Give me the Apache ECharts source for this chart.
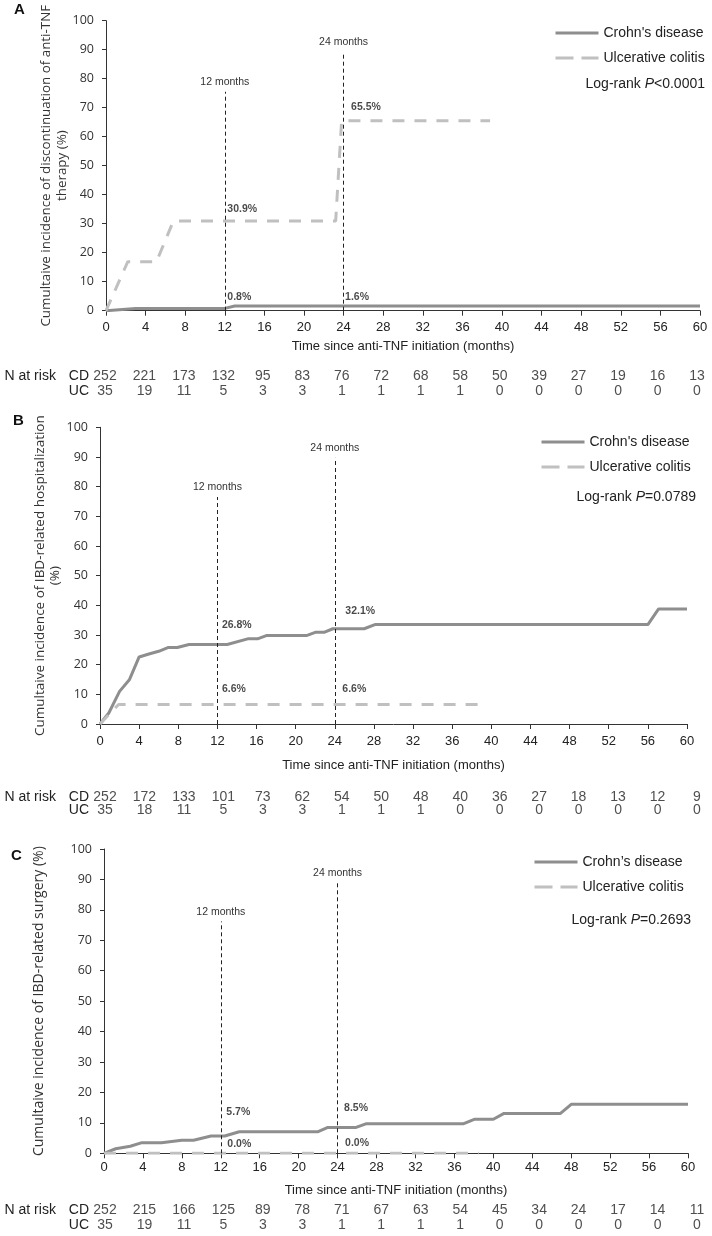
<!DOCTYPE html>
<html><head><meta charset="utf-8">
<script src="https://cdn.jsdelivr.net/npm/echarts@6/dist/echarts.min.js"></script>
<style>html,body{margin:0;padding:0;background:#fff}#c{width:712px;height:1236px}</style>
</head><body><div id="c"></div>
<script>
// ---------- DATA ----------
const months = [0,4,8,12,16,20,24,28,32,36,40,44,48,52,56,60];
const namesAB = ["Crohn's disease", "Ulcerative colitis"];
const namesC = ["Crohn\u2019s disease", "Ulcerative colitis"];
const panelLetters = ['A','B','C'];
const yTitles = [
  'Cumultaive incidence of discontinuation of anti-TNF\ntherapy (%)',
  'Cumultaive incidence of IBD-related hospitalization\n(%)',
  'Cumultaive incidence of IBD-related surgery (%)'
];
const xTitle = 'Time since anti-TNF initiation (months)';
const pValues = ['<0.0001', '=0.0789', '=0.2693'];

// Panel A: discontinuation of anti-TNF therapy
const cdA = [[0,0],[3,0.8],[12,0.8],[13,1.6],[60,1.6]];
const ucA = [[0,0],[2.2,16.9],[5.1,16.9],[6.8,30.9],[23.2,30.9],[23.8,65.5],[38.8,65.5]];
const riskCdA = [252,221,173,132,95,83,76,72,68,58,50,39,27,19,16,13];
const riskUcA = [35,19,11,5,3,3,1,1,1,1,0,0,0,0,0,0];
const annotA = [[12,30.9],[12,0.8],[24,65.5],[24,1.6]];
const refTopsA = [75.5,89.2];

// Panel B: IBD-related hospitalization
const cdB = [[0,0],[0.9,3.7],[2.0,11.0],[3.0,14.9],[4.0,22.6],[5.0,23.6],[6.0,24.5],[7.0,25.8],[7.9,25.8],[9.1,26.8],[13.0,26.8],[15.1,28.7],[16.1,28.7],[17.0,29.8],[21.1,29.8],[22.0,30.9],[22.9,30.9],[23.8,32.1],[27.0,32.1],[28.1,33.5],[56.0,33.5],[57.1,38.8],[60,38.8]];
const ucB = [[0,0],[1.9,6.6],[39.1,6.6]];
const riskCdB = [252,172,133,101,73,62,54,50,48,40,36,27,18,13,12,9];
const riskUcB = [35,18,11,5,3,3,1,1,1,0,0,0,0,0,0,0];
const annotB = [[12,26.8],[12,6.6],[24,32.1],[24,6.6]];
const refTopsB = [76.5,89.7];

// Panel C: IBD-related surgery
const cdC = [[0,0],[1.2,1.5],[2.7,2.3],[3.9,3.5],[5.9,3.5],[8.0,4.3],[9.2,4.3],[11.0,5.7],[12.4,5.7],[13.9,7.1],[22.0,7.1],[23.0,8.5],[25.9,8.5],[26.9,9.7],[36.9,9.7],[38.1,11.2],[40.0,11.2],[41.1,13.1],[46.9,13.1],[48.0,16.1],[60,16.1]];
const ucC = [[0,0],[38.5,0]];
const riskCdC = [252,215,166,125,89,78,71,67,63,54,45,34,24,17,14,11];
const riskUcC = [35,19,11,5,3,3,1,1,1,1,0,0,0,0,0,0];
const annotC = [[12,5.7],[12,0.0],[24,8.5],[24,0.0]];
const refTopsC = [76.2,89];

const refMonths = [12,24];
const riskRows = ['CD','UC'];

// ---------- LAYOUT / STYLE ----------
const panels = [
  {names:namesAB, cd:cdA, uc:ucA, rCd:riskCdA, rUc:riskUcA, annot:annotA, refTops:refTopsA},
  {names:namesAB, cd:cdB, uc:ucB, rCd:riskCdB, rUc:riskUcB, annot:annotB, refTops:refTopsB},
  {names:namesC,  cd:cdC, uc:ucC, rCd:riskCdC, rUc:riskUcC, annot:annotC, refTops:refTopsC}
];
const styles = [
  {grid:{left:106,top:20.7,width:594,height:290}, table:{top:369,height:29}, legend:{left:554,top:26}, logrank:{right:7,top:77}, letter:{left:14,top:2}, xMargin:10, xGap:29, yGap:36, yLH:16, ySize:13.4, off:[[3,-11],[3,-11],[8,-13],[2,-8]]},
  {grid:{left:100,top:427.3,width:587,height:296.7}, table:{top:791,height:26}, legend:{left:540,top:435}, logrank:{right:16,top:490}, letter:{left:13,top:413}, xMargin:11, xGap:35, yGap:37.5, yLH:15, ySize:13.5, off:[[5,-19],[5,-15],[11,-17],[8,-15]]},
  {grid:{left:104,top:849,width:584,height:304.3}, table:{top:1202.5,height:30}, legend:{left:533,top:855}, logrank:{right:21,top:913}, letter:{left:11,top:848}, xMargin:8, xGap:31, yGap:57, yLH:16, ySize:14, off:[[6,-23],[7,-9],[7,-19],[8,-10]]}
];
const CD_COLOR = '#8e8e8e', UC_COLOR = '#c0c0c0', TXT = '#222';

const option = {
  animation:false,
  backgroundColor:'#fff',
  textStyle:{fontFamily:'Liberation Sans, Arial, sans-serif'},
  title:[], legend:[], grid:[], xAxis:[], yAxis:[], series:[]
};

panels.forEach((p, i) => {
  const s = styles[i];
  const gMain = 2*i, gTab = 2*i+1;
  option.grid.push(Object.assign({containLabel:false}, s.grid));
  option.grid.push({left:105, width:592, top:s.table.top, height:s.table.height});
  option.title.push({text:panelLetters[i], left:s.letter.left, top:s.letter.top, padding:0,
    textStyle:{fontSize:15, fontWeight:'bold', color:'#111', fontFamily:'Liberation Sans'}});
  option.title.push({text:'Log-rank {i|P}' + pValues[i], right:s.logrank.right, top:s.logrank.top, padding:0,
    textStyle:{fontSize:14, fontWeight:'normal', color:TXT, fontFamily:'Liberation Sans',
      rich:{i:{fontStyle:'italic', fontSize:14, color:TXT, fontFamily:'Liberation Sans'}}}});
  option.legend.push({
    data:[{name:p.names[0], lineStyle:{width:3}}, {name:p.names[1], lineStyle:{width:3, type:[18,8]}}],
    orient:'vertical', left:s.legend.left, top:s.legend.top, padding:0,
    itemWidth:43, itemHeight:14, itemGap:11, selectedMode:false,
    itemStyle:{opacity:0},
    textStyle:{fontSize:14, color:TXT, fontFamily:'Liberation Sans'}});
  option.xAxis.push({gridIndex:gMain, type:'value', min:0, max:60, interval:4,
    axisLine:{lineStyle:{color:'#333', width:1}}, axisTick:{length:5, lineStyle:{color:'#333'}},
    axisLabel:{fontSize:13, color:TXT, margin:s.xMargin}, splitLine:{show:false},
    name:xTitle, nameLocation:'middle', nameGap:s.xGap, nameMoveOverlap:false,
    nameTextStyle:{fontSize:13, color:TXT}});
  option.xAxis.push({gridIndex:gTab, type:'value', min:0, max:60, show:false});
  option.yAxis.push({gridIndex:gMain, type:'value', min:0, max:100, interval:10,
    axisLine:{show:true, lineStyle:{color:'#333', width:1}}, axisTick:{show:true, length:4, lineStyle:{color:'#333'}},
    axisLabel:{fontSize:12.5, color:'#333', margin:12, fontFamily:'Open Sans'}, splitLine:{show:false},
    name:yTitles[i], nameLocation:'middle', nameRotate:90, nameGap:s.yGap, nameMoveOverlap:false,
    nameTextStyle:{fontSize:s.ySize, color:'#333', fontFamily:'Open Sans', lineHeight:s.yLH}});
  option.yAxis.push({gridIndex:gTab, type:'category', data:riskRows, inverse:true,
    axisLine:{show:false}, axisTick:{show:false}, splitLine:{show:false},
    axisLabel:{interval:0, margin:16, fontSize:14, color:TXT,
      formatter:v => v === 'CD' ? '{n|N at risk} CD' : v,
      rich:{n:{fontSize:14, color:TXT, padding:[0,9,0,0]}}}});

  option.series.push({name:p.names[0], type:'line', xAxisIndex:gMain, yAxisIndex:gMain, data:p.cd,
    symbol:'none', lineStyle:{color:CD_COLOR, width:3}, itemStyle:{color:CD_COLOR}, z:3,
    markLine:{silent:true, symbol:['none','none'], precision:1,
      lineStyle:{color:'#222', width:1, type:[4,3]},
      label:{show:true, position:'end', formatter:'{b}', fontSize:10.5, color:'#333', distance:4},
      data:refMonths.map((m,k) => [{coord:[m,0], name:m + ' months'}, {coord:[m,p.refTops[k]]}])}});
  option.series.push({name:p.names[1], type:'line', xAxisIndex:gMain, yAxisIndex:gMain, data:p.uc,
    symbol:'none', lineStyle:{color:UC_COLOR, width:3, type:[12,10]}, itemStyle:{color:UC_COLOR}, z:3});
  option.series.push({name:'annot' + i, type:'scatter', xAxisIndex:gMain, yAxisIndex:gMain,
    symbolSize:1, itemStyle:{color:'transparent'}, z:5,
    data:p.annot.map((d,k) => ({value:d, label:{position:s.off[k]}})),
    label:{show:true, formatter:q => q.value[1].toFixed(1) + '%', align:'left', verticalAlign:'middle',
      fontSize:10.5, fontWeight:'bold', color:'#1a1a1a'}});
  const riskData = months.map((m,k) => [m, 'CD', p.rCd[k]]).concat(months.map((m,k) => [m, 'UC', p.rUc[k]]));
  option.series.push({name:'risk' + i, type:'scatter', xAxisIndex:gTab, yAxisIndex:gTab,
    symbolSize:1, itemStyle:{color:'transparent'}, data:riskData,
    label:{show:true, position:'inside', formatter:q => String(q.value[2]), fontSize:14, color:TXT}});
});

const chart = echarts.init(document.getElementById('c'), null, {renderer:'canvas'});
chart.setOption(option);
</script></body></html>
